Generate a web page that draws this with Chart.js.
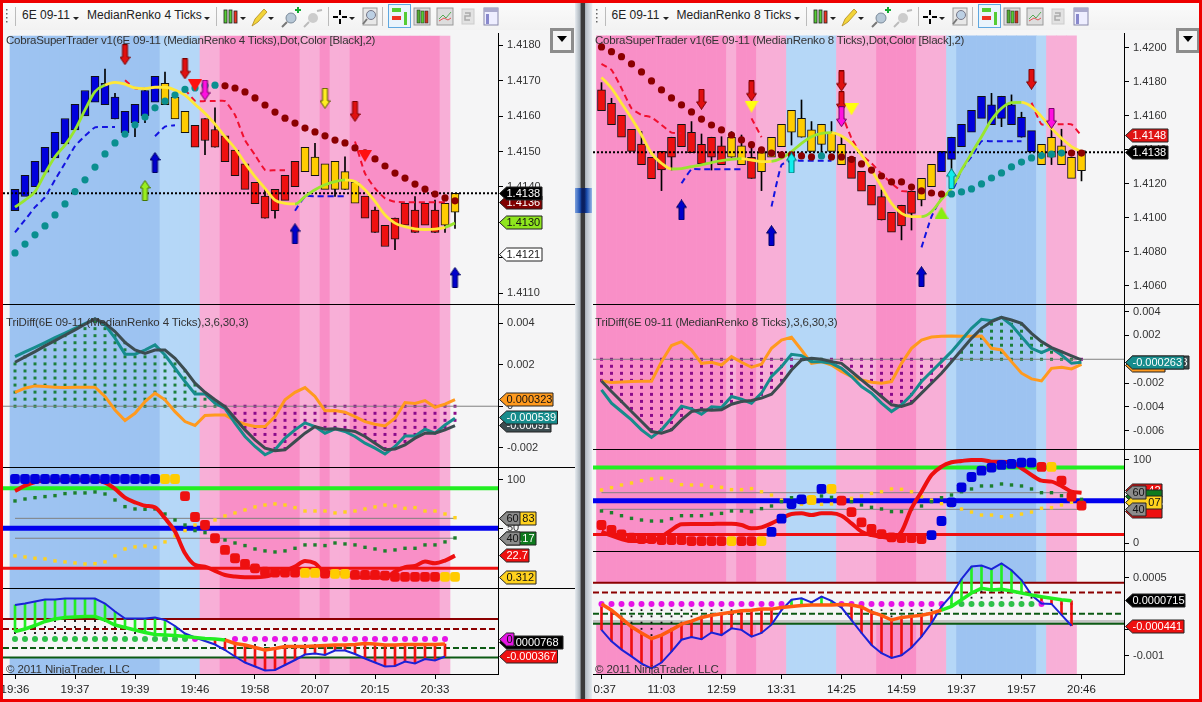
<!DOCTYPE html>
<html><head><meta charset="utf-8">
<style>
html,body{margin:0;padding:0;width:1202px;height:702px;overflow:hidden;background:#f5f5f6;font-family:"Liberation Sans",Arial,sans-serif}
canvas{position:absolute;display:block}
.abs{position:absolute}
.txt{position:absolute;white-space:nowrap;font-size:11.5px;color:#333;line-height:14px;z-index:5}
.tb{position:absolute;white-space:nowrap;font-size:12px;color:#222;line-height:16px;z-index:6}
.sep{position:absolute;height:1px;background:#000;z-index:4}
</style></head><body>
<script src="https://cdn.jsdelivr.net/npm/chart.js@4"></script>
<script>
// ---------- shared ----------
const BAND_COLOR={D:'#9dc3f1',C:'#b5d7f7',S:'#f8afd7',P:'#f98fc7'};
const KIND_COLOR={B:'#0000dd',R:'#ee1010',Y:'#ffcc00',G:'#99e62e',M:'#ff9a2a',O:'#ff5a10',T:'#0a8f8f',K:'#8b0000'};

// ---------- left window : MedianRenko 4 Ticks ----------
const L_X_TICKS=[0,6,12,18,24,30,36,42];
const L_X_LABELS=['19:36','19:37','19:39','19:46','19:58','20:07','20:15','20:33'];
const L_BANDS='DDDDDDDDDDDDDDDCCCCSSPPPPPPPPSSPSSPPPPPPPPPS';
const L_BODY_HI=[1.41393,1.41433,1.41472,1.41512,1.41554,1.41593,1.41633,1.41672,1.41712,1.41692,1.41653,1.41613,1.41633,1.41672,1.41712,1.41692,1.41653,1.41613,1.41574,1.41593,1.41562,1.41544,1.41504,1.41465,1.41413,1.41374,1.41393,1.41433,1.41472,1.41512,1.41484,1.41465,1.41472,1.41443,1.41413,1.41374,1.41335,1.41292,1.41312,1.41354,1.41335,1.41354,1.41335,1.41354,1.41382];
const L_BODY_LO=[1.41333,1.41373,1.41401,1.41442,1.41482,1.41521,1.41561,1.41600,1.41639,1.41632,1.41592,1.41553,1.41581,1.41600,1.41639,1.41632,1.41592,1.41553,1.41512,1.41531,1.41512,1.41471,1.41432,1.41393,1.41353,1.41312,1.41333,1.41362,1.41401,1.41443,1.41432,1.41393,1.41393,1.41393,1.41354,1.41312,1.41272,1.41232,1.41253,1.41292,1.41272,1.41292,1.41272,1.41292,1.41329];
const L_BODY_KIND='BBBBBBBBBBBBBBBYYYRRRRRRRRRRRYYYYYYRRRRRRRRYY';
const L_WICK_I=[9,10,12,13,15,19,20,25,26,30,32,33,36,38,40,42,43,44];
const L_WICK_LO=[1.41632,1.41592,1.41542,1.41581,1.41632,1.41491,1.41512,1.41312,1.41312,1.41432,1.41373,1.41393,1.41272,1.41223,1.41272,1.41272,1.41272,1.41283];
const L_WICK_HI=[1.41732,1.41664,1.41633,1.41672,1.41724,1.41593,1.41623,1.41396,1.41393,1.41523,1.41472,1.41485,1.41343,1.41312,1.41373,1.41363,1.41354,1.41382];
const L_MA=[1.41343,1.41363,1.41387,1.41438,1.41485,1.41518,1.41561,1.41617,1.41669,1.41687,1.41695,1.41690,1.41679,1.41677,1.41681,1.41681,1.41673,1.41659,1.41633,1.41608,1.41577,1.41542,1.41509,1.41467,1.41429,1.41396,1.41363,1.41354,1.41352,1.41373,1.41392,1.41406,1.41415,1.41420,1.41415,1.41392,1.41359,1.41321,1.41298,1.41288,1.41282,1.41280,1.41281,1.41286,1.41298];
const L_MA_KIND='GGGGGGGGGYYYYYYYYYYYYYYYYYYYGGGGGYYYYYYYYYYGG';
const L_BLUE_STOP=[1.41272,1.41307,1.41343,1.41371,1.41420,1.41467,1.41515,1.41544,1.41568,1.41569,1.41569,null,null,null,1.41543,1.41570,1.41574,null,null,null,null,null,null,null,null,null,null,null,1.41333,1.41373,1.41374,1.41374,1.41374,1.41374];
const L_RED_STOP=[null,null,null,null,null,null,null,null,null,null,null,1.41701,1.41678,1.41677,null,null,null,1.41675,1.41643,1.41642,1.41642,1.41642,1.41603,1.41532,1.41490,1.41448,1.41447,1.41447,null,null,null,null,null,null,1.41528,1.41438,1.41396,1.41368,1.41358,1.41357,1.41357,1.41357,1.41357,1.41357];
const L_DOTS=[1.41214,1.41239,1.41265,1.41290,1.41321,1.41352,1.41387,1.41420,1.41456,1.41493,1.41524,1.41549,1.41575,1.41597,1.41623,1.41642,1.41659,1.41675,1.41679,1.41686,1.41687,1.41685,1.41679,1.41668,1.41651,1.41631,1.41611,1.41594,1.41580,1.41566,1.41555,1.41544,1.41532,1.41524,1.41510,1.41496,1.41479,1.41459,1.41439,1.41425,1.41408,1.41394,1.41380,1.41369,1.41361];
const L_DOTS_KIND='TTTTTTTTTTTTTTTTTTTTTKKKKKKKKKKKKKKKKKKKKKKKK';
const L_PRICE=1.41382;
const L_MARK_X=[11,13,14,17,18,19,31,34,35,28,44];
const L_MARK_Y=[1.41773,1.41390,1.41469,1.41733,1.41686,1.41673,1.41650,1.41613,1.41487,1.41268,1.41145];
const L_MARK_KIND=['downRed','upLime','upBlue','downRed','triRed','downMag','downYel','downRed','triRed','upBlue','upBlue'];
const L_TICKS_1=[1.418,1.417,1.416,1.415,1.414,1.413,1.412,1.411];

const L_TEAL=[.00239,.00262,.00284,.00307,.00331,.00353,.00376,.00398,.00421,.00392,.00328,.00251,.00251,.00271,.00296,.00247,.00183,.00119,.00059,.00059,.00014,-.0001,-.00082,-.00146,-.00194,-.00234,-.0021,-.00154,-.00114,-.0008,-.00098,-.0013,-.00109,-.00122,-.00146,-.00178,-.00202,-.0023,-.00194,-.00143,-.00143,-.00111,-.0013,-.0009,-.00058];
const L_SLATE=[.00212,.00238,.00263,.00291,.00316,.00342,.00368,.00395,.00421,.004,.0036,.00308,.00271,.00255,.00271,.00271,.00231,.00175,.00111,.00067,.00031,-.00002,-.00058,-.00114,-.00162,-.00202,-.00215,-.0021,-.0017,-.0013,-.00098,-.00111,-.00109,-.00114,-.00122,-.00146,-.00178,-.0021,-.00206,-.00186,-.00154,-.0013,-.0013,-.00114,-.00093];
const L_ORANGE=[.00067,.00087,.00098,.00095,.00092,.0009,.00092,.00092,.00092,.00047,-.00018,-.00069,-.00034,.00022,.00063,.00031,-.00026,-.00074,-.00093,-.00045,-.00042,-.00042,-.00069,-.00087,-.00098,-.00098,-.0005,.00031,.00067,.0009,.00047,-.00022,-.00021,-.00029,-.0005,-.00074,-.00087,-.00095,-.00058,.00018,.00013,.00027,-.00005,.0001,.00032];
const L_TICKS_2=[.004,.002,0,-.002];

const L_FAST=[88.6,94.1,97.9,99.3,100,100,100,100,99.7,97.2,90.7,81.7,76.9,73.4,71.7,60.3,46.6,24.1,12.1,10.3,5.9,1.7,0,-.7,-.7,0,2.8,5.9,10.3,16.2,13.8,4.5,4.1,2.4,0,-1,-1,-1,5.2,9.7,11,15.5,13.8,16.6,21.7];
const L_BIG=[101,101,101,101,101,101,101,101,101,101,101,101,101,101,101,101,101,83.4,61.7,53.4,39.7,27.6,19,13.1,8.6,5.2,4.1,4.1,4.1,3.8,3.8,3.1,2.8,2.8,1.7,1.7,1.7,1,-.3,-.3,-.3,-.3,-.3,-.3,-.3];
const L_BIG_KIND='BBBBBBBBBBBBBBBYYRRRRRRRRRRRRYYRYYRRRRRRRRRYY';
const L_GREEN_DOT=[78.3,80.3,81.7,82.8,83.8,85.9,86.6,86.6,87.6,85.5,79.3,72.4,70,69.7,70,64.8,58.6,53.4,47.6,45.5,40.7,37.9,34.8,32.1,28.6,26.6,25.5,26.6,29.3,32.8,32.8,32.1,34.8,33.8,32.8,30.3,28.6,26.6,27.6,29.3,29.3,32.8,32.8,35.9,40];
const L_YELLOW_DOT=[21.4,20.3,19,18.3,16.2,15.2,14.1,13.1,13.4,15.2,21.4,28.6,30.7,31.7,30.3,35.9,42.1,47.6,53.4,55.2,58.6,62.8,65.9,69,72.1,74.1,75.2,74.1,71.4,67.9,67.9,67.9,65.9,66.9,67.9,70,72.1,74.1,73.1,70.7,71.4,67.9,67.9,64.8,61];
const L_LEVELS_3=[91.4,60.3,50,39.7,8.6];
const L_TICKS_3=[100,50];

const L_MACD=[.00068,.00071,.00075,.00079,.00079,.00081,.00081,.00081,.00081,.00071,.00055,.00041,.00041,.00041,.00043,.00038,.00026,.00011,.00003,-.00004,-.00011,-.00022,-.00035,-.00047,-.00055,-.00063,-.00062,-.00052,-.00042,-.00031,-.00029,-.00032,-.00023,-.00023,-.0003,-.00039,-.00047,-.00055,-.00054,-.00045,-.00049,-.0004,-.00043,-.00035];
const L_SIGNAL=[.00015,.0002,.00027,.00035,.0004,.00043,.00044,.00045,.00045,.00038,.00028,.00023,.00018,.00013,.00009,.00008,.00007,.00005,.00003,.00001,0,-.00002,-.00009,-.00012,-.00017,-.00022,-.00019,-.00015,-.00015,-.00015,-.00014,-.00013,-.00012,-.00012,-.00011,-.00009,-.0001,-.00012,-.00012,-.00011,-.00011,-.00011,-.00011,-.0001];
const L_SIGNAL_KIND='GGGGGGGGGGGGGGGGGGGGGOOOOOOOOOOOOOOOOOOOOOOO';
const L_ZERO_KIND='GGGGGGGGGGGGGGGGGGM---MMMMMMMMMMMMMMMMMMMMMM';
const L_LEVELS_4=[.0004,.0002,-.00018,-.00037];

// ---------- right window : MedianRenko 8 Ticks ----------
const R_X_TICKS=[0,6,12,18,24,30,36,42,48];
const R_X_LABELS=['\u00a0\u00a00:37','11:03','12:59','13:31','14:25','14:59','19:37','19:57','20:46'];
const R_BANDS='PPPPPPPPPPPPPSPPSSSCCCCCSSSSPPPPSSSCDDDDDDDDCSSS';
const R_BODY_HI=[1.41751,1.41673,1.41602,1.41520,1.41433,1.41355,1.41390,1.41473,1.41549,1.41502,1.41431,1.41473,1.41422,1.41473,1.41422,1.41355,1.41382,1.41473,1.41549,1.41631,1.41584,1.41516,1.41549,1.41502,1.41431,1.41355,1.41273,1.41190,1.41124,1.41031,1.41073,1.41155,1.41231,1.41314,1.41390,1.41473,1.41549,1.41631,1.41714,1.41663,1.41714,1.41663,1.41590,1.41512,1.41431,1.41473,1.41422,1.41355,1.41394];
const R_BODY_LO=[1.41629,1.41547,1.41473,1.41390,1.41312,1.41229,1.41280,1.41355,1.41418,1.41382,1.41316,1.41355,1.41312,1.41355,1.41312,1.41231,1.41271,1.41355,1.41418,1.41502,1.41473,1.41390,1.41431,1.41390,1.41312,1.41231,1.41155,1.41073,1.40986,1.40914,1.40951,1.41025,1.41104,1.41182,1.41271,1.41343,1.41418,1.41502,1.41584,1.41547,1.41584,1.41547,1.41473,1.41386,1.41312,1.41355,1.41312,1.41231,1.41276];
const R_BODY_KIND='RRRRRRRRRRRRRYYRYYYYYYYYYRRRRRRRYYBBBBBBBBBBYYYYY';
const R_WICK_I=[0,1,4,6,7,9,10,11,12,13,14,15,16,19,20,21,22,23,24,28,30,31,32,35,39,40,41,42,45,46,48];
const R_WICK_LO=[1.41629,1.41547,1.41312,1.41159,1.41280,1.41382,1.41316,1.41280,1.41312,1.41355,1.41312,1.41231,1.41159,1.41427,1.41473,1.41390,1.41359,1.41390,1.41312,1.40986,1.40869,1.40927,1.41069,1.41212,1.41547,1.41535,1.41547,1.41473,1.41312,1.41312,1.41216];
const R_WICK_HI=[1.41794,1.41702,1.41506,1.41390,1.41473,1.41565,1.41492,1.41473,1.41476,1.41506,1.41486,1.41422,1.41382,1.41631,1.41692,1.41565,1.41549,1.41565,1.41476,1.41163,1.41073,1.41155,1.41231,1.41473,1.41731,1.41714,1.41722,1.41620,1.41520,1.41520,1.41394];
const R_MA=[1.41825,1.41761,1.41673,1.41584,1.41486,1.41378,1.41320,1.41286,1.41288,1.41300,1.41310,1.41324,1.41335,1.41343,1.41347,1.41339,1.41329,1.41331,1.41349,1.41388,1.41437,1.41476,1.41496,1.41500,1.41480,1.41437,1.41369,1.41280,1.41182,1.41084,1.41025,1.41006,1.41006,1.41035,1.41108,1.41173,1.41280,1.41378,1.41476,1.41575,1.41643,1.41676,1.41678,1.41653,1.41594,1.41525,1.41467,1.41418,1.41388];
const R_MA_KIND='YYYYYYYGGGGGGGYYYGGGGGGYYYYYYYYYGGGGGGGGGGYYYYYYY';
const R_BLUE_STOP=[null,null,null,null,null,null,null,null,1.41202,1.41284,1.41284,1.41284,1.41284,1.41284,1.41284,null,null,1.41065,1.41310,1.41335,1.41335,1.41335,1.41335,1.41335,null,null,null,null,null,null,null,null,1.40825,1.41006,1.41114,1.41147,1.41280,1.41359,1.41449,1.41449,1.41449,1.41449,1.41449];
const R_RED_STOP=[1.41904,1.41869,1.41761,1.41643,1.41604,1.41590,1.41545,1.41500,1.41496,null,null,null,null,null,null,1.41584,1.41473,null,null,null,null,null,null,null,1.41614,1.41467,1.41369,1.41320,1.41257,1.41202,1.41157,1.41153,null,null,null,null,null,null,null,null,null,null,null,1.41676,1.41549,1.41549,1.41549,1.41549,1.41480];
const R_DOTS=[1.42004,1.41976,1.41947,1.41904,1.41857,1.41804,1.41751,1.41704,1.41663,1.41622,1.41580,1.41545,1.41516,1.41486,1.41457,1.41429,1.41398,1.41380,1.41369,1.41369,1.41363,1.41357,1.41363,1.41357,1.41357,1.41343,1.41316,1.41280,1.41245,1.41210,1.41210,1.41180,1.41157,1.41145,1.41139,1.41139,1.41151,1.41169,1.41198,1.41233,1.41263,1.41298,1.41327,1.41351,1.41365,1.41373,1.41380,1.41380,1.41380];
const R_DOTS_KIND='KKKKKKKKKKKKKKKKKKKKKKTKKKKKKKKKKKKTTTTTTTTTTTTKK';
const R_PRICE=1.41384;
const R_MARK_X=[10,15,15,8,17,19,24,24,24,25,35,34,32,43,45];
const R_MARK_Y=[1.41696,1.41745,1.41653,1.41045,1.40894,1.41322,1.41804,1.41682,1.41594,1.41637,1.41229,1.41029,1.40653,1.41814,1.41584];
const R_MARK_KIND=['downRed','downRed','triYel','upBlue','upBlue','upCyan','downRed','downRed','downMag','triYel','upCyan','triLime','upBlue','downRed','downMag'];
const R_TICKS_1=[1.42,1.418,1.416,1.414,1.412,1.41,1.408,1.406];

const R_TEAL=[-.00257,-.00369,-.00439,-.00509,-.00593,-.00657,-.00593,-.00495,-.00394,-.00417,-.00462,-.004,-.00406,-.00313,-.00336,-.00369,-.00285,-.00145,-.00062,.00042,.00031,-.0002,-.0002,-.00034,-.00076,-.00145,-.00229,-.00285,-.00369,-.00439,-.00383,-.00299,-.00187,-.00103,-.0002,.00064,.00162,.0026,.00336,.00324,.00352,.00288,.0019,.00092,.00056,.00092,.00036,-.00034,-.00026];
const R_SLATE=[-.00182,-.00271,-.00355,-.00439,-.00523,-.00607,-.00621,-.00593,-.00509,-.00439,-.00425,-.00428,-.00425,-.00378,-.00355,-.00347,-.00327,-.00294,-.00201,-.0009,-.00006,.00008,0,-.0002,-.00034,-.00103,-.00173,-.00243,-.00313,-.00383,-.00397,-.00369,-.00285,-.00201,-.00117,-.0002,.00078,.00176,.0026,.00316,.00352,.0033,.00302,.00218,.00148,.00098,.00064,.00028,-.00006];
const R_ORANGE=[-.00182,-.00196,-.0019,-.00187,-.00185,-.00185,-.0002,.00115,.00148,.00078,-.00034,-.00025,-.00048,.00022,-.00025,-.00067,-.00042,.00092,.00162,.00185,.00078,-.00034,-.0002,-.00048,-.00103,-.00145,-.00173,-.00193,-.00201,-.00187,-.00034,.00092,.00162,.00187,.00193,.00196,.00193,.00193,.00196,.00092,.00078,-.0002,-.00117,-.00165,-.00182,-.00076,-.00067,-.00081,-.00042];
const R_TICKS_2=[.004,.002,-.002,-.004,-.006];

const R_FAST=[13.7,8.8,4.8,2.4,2.4,2.4,7.6,15.7,22.5,22.9,22.9,22.9,23.3,23.3,21.7,17.7,18.9,23.7,29.7,34.9,35.7,33.7,35.7,35.7,32.9,23.7,13.7,9.6,7.6,5.6,13.7,41.8,61.8,81.9,92,97.2,98.8,100,100,98,98,97.2,90,81.9,75.1,73.9,68.7,61.8,60.6];
const R_BIG=[21.7,15.7,10.4,6.4,4.8,4.8,3.6,3.6,3.6,2.4,2.4,2.4,2.4,2.4,2.4,2.4,2.4,13.3,29.3,47,52.6,51.8,65.1,65.1,51,37.3,24.9,16.9,10.8,6.8,6,6,4.8,9.6,26.5,49,67.1,79.5,87.1,90.8,94,95.2,96.8,96.8,91.6,91.6,75.1,55.8,45];
const R_BIG_KIND='RRRRRRRRRRRRRYRRYBBBBYBYRRRRRRRRRBBBBBBBBBBBRYRRR';
const R_GREEN_DOT=[38.6,36.5,32.9,29.7,27.7,26.5,26.5,29.3,32.9,32.9,32.9,34.9,35.7,38.6,38.6,37.8,41.4,44.6,49.8,54.6,55,53.8,56.6,55,51.8,49.8,45.8,43,41,37.8,37.8,41,44.6,49.8,54.6,57.8,61.8,65.1,68.7,68.7,71.1,69.9,68.7,65.1,60.6,60.6,57,54.6,52.6];
const R_YELLOW_DOT=[63.9,66.7,69.9,72.3,75.1,77.1,77.9,75.1,70.3,69.9,69.9,67.9,67.1,64.3,64.3,65.5,61.8,57.8,51.8,47,46.6,49,46.6,47,50.6,53.8,56.6,59.8,61.8,65.1,64.7,61.8,55.8,51.8,47.4,44.6,41,37.3,33.7,33.7,31.7,32.9,34.9,37.3,41.8,42.6,45.8,49,49.8];
const R_LEVELS_3=[90.8,60.6,51,40.6,10.4];
const R_TICKS_3=[100,0];

const R_MACD=[-.0005,-.00072,-.00088,-.00101,-.00115,-.00124,-.00113,-.00092,-.00069,-.00064,-.00068,-.00055,-.0006,-.00047,-.0005,-.00063,-.00056,-.0004,-.00012,.00008,.00011,.00003,.00014,.00006,-.00007,-.00031,-.00056,-.00079,-.00095,-.00104,-.00099,-.00084,-.00063,-.00037,-.00005,.00017,.00048,.00072,.00074,.00067,.00078,.00065,.00046,.00017,.00001,0,-.00021,-.00042];
const R_SIGNAL=[0,-.00012,-.00028,-.00044,-.00056,-.00067,-.0006,-.0005,-.00039,-.00033,-.00026,-.00022,-.00019,-.00016,-.00013,-.00012,-.0001,-.0001,-.00007,-.00005,-.00003,-.00002,-.00002,-.00002,-.00001,-.00002,-.00006,-.00016,-.00022,-.00031,-.00026,-.00024,-.00022,-.00018,-.00012,-.00005,.00008,.00021,.0003,.00027,.00028,.00025,.00021,.00017,.00014,.00011,.00008,.00006];
const R_SIGNAL_KIND='OOOOOOOOOOOOOOOOOOOOOOOOOOOOOOOOOOGGGGGGGGGGGGGG';
const R_ZERO_KIND='MMMMMMMMMMMMMMMMMMM-----MMMMMMMMMMM-GGGGGGGGM---';
const R_LEVELS_4=[.00041,.00022,-.00019,-.00038];
const R_TICKS_4=[.0005,-.0005,-.001];

// ---------- frame ----------
const LAYOUT={
  L:{left:3,width:572,axisW:77,xMin:-1.2,xMax:48.3},
  R:{left:593,width:606,axisW:75,xMin:-.85,xMax:52.25}
};
function el(cls,css,html){const d=document.createElement('div');d.className=cls;d.style.cssText=css;if(html!=null)d.innerHTML=html;document.body.appendChild(d);return d;}

// red frame, divider
el('abs','left:0;top:0;width:1202px;height:3px;background:#ee0000;z-index:20');
el('abs','left:0;top:699px;width:1202px;height:3px;background:#ee0000;z-index:20');
el('abs','left:0;top:0;width:3px;height:702px;background:#ee0000;z-index:20');
el('abs','left:1199px;top:0;width:3px;height:702px;background:#ee0000;z-index:20');
el('abs','left:575px;top:3px;width:17px;height:696px;background:linear-gradient(90deg,#e6ebf0 0,#aab3bb 30%,#3a3a3a 36%,#3a3a3a 58%,#b4bcc4 62%,#e6ebf0 100%);z-index:3');
el('abs','left:575px;top:188px;width:17px;height:25px;background:linear-gradient(90deg,#7ea2de 0,#1a4eb0 30%,#0a1f60 40%,#0a1f60 55%,#1a4eb0 70%,#9ab8e6 100%);z-index:3');

function toolbar(dx,instr){
  el('abs',`left:${3+dx}px;top:3px;width:${dx?607:572}px;height:27px;background:linear-gradient(#fbfbfb,#f2f2f2);z-index:1`);
  el('tb',`left:${22+dx}px;top:7px`,'6E 09-11');
  el('tb',`left:${87+dx}px;top:7px`,instr);
  const s=`<svg width="500" height="27" style="position:absolute;left:${dx}px;top:3px;z-index:6;overflow:visible">
  <g fill="#666"><rect x="6" y="6" width="1.5" height="1.5"/><rect x="6" y="10" width="1.5" height="1.5"/><rect x="6" y="14" width="1.5" height="1.5"/><rect x="6" y="18" width="1.5" height="1.5"/></g>
  <rect x="15" y="4" width="1" height="19" fill="#bbb"/><rect x="216" y="4" width="1" height="19" fill="#bbb"/><rect x="328" y="4" width="1" height="19" fill="#bbb"/><rect x="382" y="4" width="1" height="19" fill="#bbb"/>
  <path d="M73 14l6 0-3 3zM204 14l6 0-3 3zM240 14l6 0-3 3zM268 14l6 0-3 3zM349 14l6 0-3 3z" fill="#222"/>
  <g stroke="#222" stroke-width=".8"><rect x="224" y="7" width="3" height="13" fill="#55cc33"/><rect x="229" y="7" width="3" height="13" fill="#55cc33"/><rect x="234" y="8" width="3" height="12" fill="#ee3322"/></g>
  <path d="M252 23l3-7 9-10 3 3-9 10z" fill="#f2d43a" stroke="#b08a20" stroke-width=".8"/>
  <g><circle cx="291" cy="15" r="5" fill="#b7c7d6" stroke="#7a8a9a"/><path d="M287 19l-5 5" stroke="#777" stroke-width="2"/><path d="M295 7h6M298 4v6" stroke="#11aa33" stroke-width="2"/></g>
  <g><circle cx="313" cy="15" r="5" fill="#ccc"/><path d="M309 19l-5 5" stroke="#bbb" stroke-width="2"/><path d="M317 8l5-1" stroke="#bbb" stroke-width="2"/></g>
  <path d="M333 14h5M342 14h5M340 7v5M340 16v5" stroke="#000" stroke-width="2"/>
  <rect x="363" y="5" width="14" height="17" fill="#e8e8e8" stroke="#999"/><circle cx="371" cy="12" r="4.5" fill="#bcd0e4" stroke="#778"/><path d="M367 16l-4 5" stroke="#777" stroke-width="2"/>
  <rect x="388.5" y="1.5" width="22" height="23" fill="#eaf4fc" stroke="#5fa8e0"/><rect x="392" y="5" width="9" height="4" fill="#55cc33"/><rect x="392" y="13" width="9" height="4" fill="#ee3322"/><rect x="404" y="9" width="3" height="13" fill="#55cc33"/>
  <rect x="414" y="5" width="16" height="17" fill="#ddd" stroke="#999"/><rect x="417" y="7" width="3" height="13" fill="#55aa33" stroke="#222" stroke-width=".5"/><rect x="421" y="8" width="3" height="12" fill="#55cc33" stroke="#222" stroke-width=".5"/><rect x="425" y="8" width="3" height="12" fill="#cc3322" stroke="#222" stroke-width=".5"/>
  <rect x="437" y="5" width="16" height="17" fill="#ddd" stroke="#999"/><path d="M439 16l4-4 3 3 5-6" stroke="#55aa55" fill="none"/><path d="M439 18l5-3 4 2 3-2" stroke="#dd5555" fill="none"/>
  <rect x="462" y="6" width="12" height="15" fill="#e2e2e2" stroke="#ccc"/><path d="M465 10h5v3h-5v4h5" stroke="#aaa" fill="none" stroke-width="1.5"/>
  <rect x="484" y="5" width="14" height="17" fill="#eef" stroke="#88a"/><rect x="484" y="5" width="14" height="4" fill="#aac"/><rect x="486" y="11" width="3" height="10" fill="#88c"/>
  </svg>`;
  const h=document.createElement('div');h.innerHTML=s;document.body.appendChild(h);
}
toolbar(0,'MedianRenko 4 Ticks');
toolbar(589.5,'MedianRenko 8 Ticks');

// panel separators
[304,467,588].forEach(y=>el('sep',`left:3px;top:${y}px;width:572px`));
[304,449,551].forEach(y=>el('sep',`left:593px;top:${y}px;width:606px`));

// drop-down buttons
[[550,28],[1176,28]].forEach(([x,y])=>{
  el('abs',`left:${x}px;top:${y}px;width:18px;height:19px;border:3px solid #8c8c8c;background:#f4f4f4;z-index:6`,
    '<div style="margin:5px auto 0;width:0;height:0;border-left:5px solid transparent;border-right:5px solid transparent;border-top:6px solid #000"></div>');
});

// panel captions
function cap(x,y,t,sp){el('txt',`left:${x}px;top:${y}px;letter-spacing:${sp}px`,t);}
cap(6,33,'CobraSuperTrader v1(6E 09-11 (MedianRenko 4 Ticks),Dot,Color [Black],2)',-.21);
cap(595,33,'CobraSuperTrader v1(6E 09-11 (MedianRenko 8 Ticks),Dot,Color [Black],2)',-.21);
cap(6,315,'TriDiff(6E 09-11 (MedianRenko 4 Ticks),3,6,30,3)',-.14);
cap(595,315,'TriDiff(6E 09-11 (MedianRenko 8 Ticks),3,6,30,3)',-.14);
cap(6,662,'© 2011 NinjaTrader, LLC',-.1);
cap(595,662,'© 2011 NinjaTrader, LLC',-.1);

// ---------- marker sprites ----------
function sprite(w,h,fn){const c=document.createElement('canvas');c.width=w;c.height=h;fn(c.getContext('2d'));return c;}
function arrowSprite(fill,stroke,up){
  return sprite(11,21,g=>{
    if(!up){g.translate(0,21);g.scale(1,-1);}
    g.beginPath();g.moveTo(5.5,.5);g.lineTo(10.5,8);g.lineTo(8,8);g.lineTo(8,20.5);g.lineTo(3,20.5);g.lineTo(3,8);g.lineTo(.5,8);g.closePath();
    g.fillStyle=fill;g.fill();g.strokeStyle=stroke;g.lineWidth=1;g.stroke();
  });
}
function triSprite(fill,up){
  return sprite(14,12,g=>{
    if(!up){g.translate(0,12);g.scale(1,-1);}
    g.beginPath();g.moveTo(7,0);g.lineTo(14,12);g.lineTo(0,12);g.closePath();g.fillStyle=fill;g.fill();
  });
}
const SPRITES={
  downRed:arrowSprite('#e01010','#7a0000',false),
  downMag:arrowSprite('#ff10e0','#700060',false),
  downYel:arrowSprite('#ffee22','#555500',false),
  upBlue:arrowSprite('#0000cc','#000060',true),
  upLime:arrowSprite('#99ee22','#447700',true),
  upCyan:arrowSprite('#11eeee','#007777',true),
  triRed:triSprite('#ff1010',false),
  triYel:triSprite('#ffff10',false),
  triLime:triSprite('#88ee10',true)
};

// ---------- tags on the axis ----------
const tagPlugin={id:'tags',afterDraw(chart,a,opts){
  const tags=opts.list||[];const g=chart.ctx;const y=chart.scales.y;const tip=chart.chartArea.right+1.5;const left=chart.canvas.offsetLeft;
  g.save();g.font='11px "Liberation Sans"';g.textBaseline='middle';
  tags.forEach(t=>{
    const py=Math.round(y.getPixelForValue(t.v))+.5,x2=t.x2-left,h=6.5;
    g.beginPath();g.moveTo(tip,py);g.lineTo(tip+7,py-h);g.lineTo(x2,py-h);g.lineTo(x2,py+h);g.lineTo(tip+7,py+h);g.closePath();
    g.fillStyle=t.bg;g.fill();g.strokeStyle='#222';g.lineWidth=1;g.stroke();
    g.fillStyle=t.fg;
    if(t.right){g.textAlign='right';g.fillText(t.t,x2-1.5,py+.5);}
    else{g.textAlign='left';g.fillText(t.t,tip+7,py+.5);}
  });
  g.restore();
}};
Chart.register(tagPlugin);
Chart.defaults.font.family='"Liberation Sans"';
Chart.defaults.font.size=11;
Chart.defaults.color='#333';

// ---------- dataset helpers ----------
const colorOf=s=>[...s].map(k=>KIND_COLOR[k]);
const pts=arr=>arr.map((v,i)=>({x:i,y:v}));
function line(arr,color,width,extra){
  return Object.assign({type:'line',data:pts(arr),borderColor:color,borderWidth:width,pointRadius:0,fill:false,tension:0,spanGaps:false},extra||{});
}
function level(w,v,color,width,dash,x0,x1){
  return {type:'line',data:[{x:x0==null?LAYOUT[w].xMin:x0,y:v},{x:x1==null?LAYOUT[w].xMax:x1,y:v}],borderColor:color,borderWidth:width,borderDash:dash||[],pointRadius:0,fill:false,tension:0};
}
function dots(list,radius,style){
  return {type:'line',showLine:false,data:list.map(p=>({x:p.x,y:p.y})),pointRadius:radius,pointStyle:style,pointBackgroundColor:list.map(p=>p.c),pointBorderWidth:0,pointHoverRadius:radius};
}
function seriesDots(arr,kinds,radius,style){
  const list=[];arr.forEach((v,i)=>{const k=kinds[i];if(k&&k!=='-'&&v!=null)list.push({x:i,y:v,c:KIND_COLOR[k]||k});});
  return dots(list,radius,style);
}
function bars(xs,lo,hi,colors,width,extra){
  return Object.assign({type:'bar',data:xs.map((x,i)=>({x,y:[lo[i],hi[i]]})),backgroundColor:colors,barThickness:width,maxBarThickness:width,grouped:false,borderSkipped:false,borderWidth:0},extra||{});
}
function bandBars(code,lo,hi){
  const xs=[...code].map((_,i)=>i);
  return bars(xs,xs.map(()=>lo),xs.map(()=>hi),[...code].map(k=>BAND_COLOR[k]),10);
}
function columnDots(base,step,colorAbove,colorBelow,radius){
  const list=[];
  base.forEach((v,i)=>{const n=Math.floor(Math.abs(v)/step);for(let k=0;k<=n;k++)list.push({x:i,y:(v>=0?1:-1)*k*step,c:v>=0?colorAbove:colorBelow});});
  return dots(list,radius,'rect');
}
const noPad=s=>{s.paddingLeft=0;s.paddingRight=0;s.paddingTop=0;s.paddingBottom=0;};
function panel(w,top,height,plotH,yMin,yMax,ticks,fmt,datasets,tags,xTicks,xLabels){
  const a=LAYOUT[w];const c=document.createElement('canvas');
  c.width=a.width;c.height=height;c.style.cssText=`left:${a.left}px;top:${top}px;width:${a.width}px;height:${height}px;z-index:2`;
  document.body.appendChild(c);
  datasets.forEach((d,i)=>{d.order=1000-i;});
  return new Chart(c,{type:'bar',data:{datasets},options:{
    responsive:false,animation:false,devicePixelRatio:1,
    layout:{padding:0,autoPadding:false},
    plugins:{legend:{display:false},tooltip:{enabled:false},title:{display:false},tags:{list:tags}},
    scales:{
      x:{type:'linear',min:a.xMin,max:a.xMax,offset:false,bounds:'data',display:!!xTicks,
        grid:{drawOnChartArea:false,offset:false,color:'#000',tickLength:5},border:{color:'#000'},
        afterBuildTicks:s=>{if(xTicks)s.ticks=xTicks.map(v=>({value:v}));},
        afterFit:s=>{noPad(s);if(xTicks)s.height=height-plotH;},
        ticks:{autoSkip:false,maxRotation:0,minRotation:0,padding:4,color:'#222',font:{size:11.5},callback:v=>{const k=xTicks?xTicks.indexOf(v):-1;return k>=0?xLabels[k]:'';}}},
      y:{type:'linear',position:'right',min:yMin,max:yMax,bounds:'data',
        grid:{drawOnChartArea:false,color:'#000',tickLength:5},border:{color:'#000'},
        afterBuildTicks:s=>{s.ticks=ticks.map(v=>({value:v}));},
        afterFit:s=>{noPad(s);s.width=a.axisW;},
        ticks:{autoSkip:false,padding:4,color:'#333',font:{size:11},callback:fmt}}
    }}});
}
const fmtPrice=v=>v.toFixed(4);
const fmtPlain=v=>String(v);

// ---------- price panel ----------
function pricePanel(w,bands,bandTop,yMin,yMax,xLast,hi,lo,kind,wi,wl,wh,stopB,stopR,ma,maK,dotV,dotK,price,mx,my,mk,ticks,tags){
  const ds=[];const xs=hi.map((_,i)=>i);
  ds.push(bandBars(bands,yMin,bandTop));
  ds.push(bars(wi,wl,wh,'#000',1));
  ds.push(bars(xs,lo,hi,colorOf(kind),8,{borderColor:'#111',borderWidth:1}));
  ds.push(level(w,price,'#000',2,[2,2]));
  ds.push(line(stopB,'#1414e0',2,{borderDash:[6,4],tension:.15}));
  ds.push(line(stopR,'#f01030',2,{borderDash:[6,4],tension:.15}));
  ds.push(line(ma,'#ffe838',2.8,{cubicInterpolationMode:'monotone',segment:{borderColor:c=>maK[c.p0DataIndex]==='G'?'#99e62e':'#ffe838'}}));
  ds.push(seriesDots(dotV,dotK,3.6,'circle'));
  ds.push({type:'line',showLine:false,data:mx.map((x,i)=>({x,y:my[i]})),pointStyle:mk.map(k=>SPRITES[k]),pointRadius:8});
  return panel(w,33,271,271,yMin,yMax,ticks,fmtPrice,ds,tags);
}
pricePanel('L',L_BANDS,1.41825,1.4107,1.41834,44,L_BODY_HI,L_BODY_LO,L_BODY_KIND,L_WICK_I,L_WICK_LO,L_WICK_HI,L_BLUE_STOP,L_RED_STOP,L_MA,L_MA_KIND,L_DOTS,L_DOTS_KIND,L_PRICE,L_MARK_X,L_MARK_Y,L_MARK_KIND,L_TICKS_1,[
 {v:1.4121,t:'1.4121',bg:'#ffffff',fg:'#222',x2:542},
 {v:1.41358,t:'1.4136',bg:'#800000',fg:'#fff',x2:542},
 {v:1.4130,t:'1.4130',bg:'#8fe61e',fg:'#111',x2:542},
 {v:1.41382,t:'1.4138',bg:'#000',fg:'#fff',x2:542}]);
pricePanel('R',R_BANDS,1.42069,1.40492,1.42086,48,R_BODY_HI,R_BODY_LO,R_BODY_KIND,R_WICK_I,R_WICK_LO,R_WICK_HI,R_BLUE_STOP,R_RED_STOP,R_MA,R_MA_KIND,R_DOTS,R_DOTS_KIND,R_PRICE,R_MARK_X,R_MARK_Y,R_MARK_KIND,R_TICKS_1,[
 {v:1.41486,t:'1.4148',bg:'#e01414',fg:'#fff',x2:1168},
 {v:1.41387,t:'1.4138',bg:'#000',fg:'#fff',x2:1168}]);

// ---------- TriDiff panel ----------
function triPanel(w,top,h,bands,yMin,yMax,teal,slate,orange,step,split,ticks,tags){
  const ds=[];
  ds.push(bandBars(bands,yMin,yMax));
  ds.push(columnDots(slate,step,'#1c7f3c','#8a0a8a',2.1));
  ds.push(level(w,0,'#808080',1));
  ds.push(line(orange,'#ff9a1e',3));
  ds.push(line(teal,'#168c8c',3));
  ds.push(line(slate,'#3c4c50',3));
  return panel(w,top,h,h,yMin,yMax,ticks,v=>v===0?'0':String(v),ds,tags);
}
triPanel('L',305,162,L_BANDS,-.00293,.00488,L_TEAL,L_SLATE,L_ORANGE,.00034,0,L_TICKS_2,[
 {v:-.0009,t:'-0.00091',bg:'#3c4c50',fg:'#fff',x2:551},
 {v:.00035,t:'0.000323',bg:'#ff9a1e',fg:'#111',x2:553},
 {v:-.0005,t:'-0.000539',bg:'#168c8c',fg:'#fff',x2:557.5}]);
triPanel('R',305,144,R_BANDS,-.00754,.00456,R_TEAL,R_SLATE,R_ORANGE,.00059,0,R_TICKS_2,[
 {v:-.00023,t:'3',bg:'#3c4c50',fg:'#fff',x2:1189,right:true},
 {v:-.00048,t:'',bg:'#ff9a1e',fg:'#111',x2:1165},
 {v:-.00023,t:'-0.000263',bg:'#168c8c',fg:'#fff',x2:1184}]);

// ---------- stochastic panel ----------
function stochPanel(w,top,h,bands,yMin,yMax,levels,fast,big,bigK,green,yellow,last,ticks,tags){
  const ds=[];const gk=fast.map(()=>'#1c7f2c'),yk=fast.map(()=>'#ffd21e');
  ds.push(bandBars(bands,yMin,yMax));
  ds.push(level(w,levels[1],'#808080',1,null,0,last));
  ds.push(level(w,levels[3],'#808080',1,null,0,last));
  ds.push(level(w,levels[0],'#22ee22',4));
  ds.push(level(w,levels[2],'#0000ee',5));
  ds.push(level(w,levels[4],'#ee1010',3));
  ds.push(seriesDots(yellow,yk,2.4,'rect'));
  ds.push(seriesDots(green,gk,2.4,'rect'));
  ds.push(line(fast,'#ee1010',4,{cubicInterpolationMode:'monotone'}));
  ds.push(seriesDots(big,bigK,5.7,'rectRounded'));
  return panel(w,top,h,h,yMin,yMax,ticks,fmtPlain,ds,tags);
}
stochPanel('L',468,120,L_BANDS,-11.8,112.4,L_LEVELS_3,L_FAST,L_BIG,L_BIG_KIND,L_GREEN_DOT,L_YELLOW_DOT,44,L_TICKS_3,[
 {v:60.7,t:'83',bg:'#ffd21e',fg:'#111',x2:536,right:true},
 {v:60.7,t:'60',bg:'#8c8c8c',fg:'#111',x2:520},
 {v:40.3,t:'.17',bg:'#0e7a1e',fg:'#fff',x2:536,right:true},
 {v:40.3,t:'40',bg:'#8c8c8c',fg:'#111',x2:520},
 {v:22.4,t:'22.7',bg:'#ee1010',fg:'#fff',x2:529},
 {v:-.4,t:'0.312',bg:'#ffd21e',fg:'#111',x2:536}]);
stochPanel('R',450,101,R_BANDS,-9.6,112,R_LEVELS_3,R_FAST,R_BIG,R_BIG_KIND,R_GREEN_DOT,R_YELLOW_DOT,48,R_TICKS_3,[
 {v:63.9,t:'42',bg:'#ee1010',fg:'#fff',x2:1162,right:true},
 {v:38.6,t:'',bg:'#ee1010',fg:'#fff',x2:1162},
 {v:56.6,t:'',bg:'#0e7a1e',fg:'#fff',x2:1162},
 {v:49.4,t:'07',bg:'#ffd21e',fg:'#111',x2:1162,right:true},
 {v:61.4,t:'60',bg:'#8c8c8c',fg:'#111',x2:1146},
 {v:41,t:'40',bg:'#8c8c8c',fg:'#111',x2:1146}]);

// ---------- oscillator panel ----------
function oscPanel(w,top,h,plotH,bands,yMin,yMax,levels,macd,signal,sigK,zeroK,step,ticks,fmt,xt,xl,tags,halo){
  const ds=[];const xs=macd.map((_,i)=>i);
  ds.push(bandBars(bands,levels[0],yMax));
  ds.push(bandBars(bands,yMin,levels[3]));
  if(halo!=null)ds.push(level(w,halo,'#c4c4c4',3));
  ds.push(level(w,levels[0],'#8b0000',2));
  ds.push(level(w,levels[1],'#8b0000',2,[6,3]));
  ds.push(level(w,levels[2],'#0c5a14',2,[6,3]));
  ds.push(level(w,levels[3],'#0c5a14',2));
  ds.push(columnDots(signal,step,'#111','#111',1.3));
  ds.push(bars(xs,xs.map(i=>Math.min(macd[i],signal[i])),xs.map(i=>Math.max(macd[i],signal[i])),xs.map(i=>macd[i]>=signal[i]?'#22ee22':'#ee1010'),2));
  ds.push(seriesDots(macd.map(()=>0),[...zeroK].map(k=>k==='G'?'#2fc04a':k==='M'?'#e614e6':'-'),3,'circle'));
  ds.push(line(macd,'#1a22d8',2));
  ds.push(line(signal,'#ff5a10',3.5,{segment:{borderColor:c=>sigK[c.p0DataIndex]==='G'?'#22ee22':'#ff5a10'}}));
  return panel(w,top,h,plotH,yMin,yMax,ticks,fmt,ds,tags,xt,xl);
}
oscPanel('L',589,106,85,L_BANDS,-.0007,.001,L_LEVELS_4,L_MACD,L_SIGNAL,L_SIGNAL_KIND,L_ZERO_KIND,.00012,[],fmtPlain,L_X_TICKS,L_X_LABELS,[
 {v:-.00006,t:'0.0000768',bg:'#000',fg:'#fff',x2:563},
 {v:-.00034,t:'-0.000367',bg:'#ee1010',fg:'#fff',x2:557.5},
 {v:0,t:'0',bg:'#e614e6',fg:'#111',x2:514}]);
oscPanel('R',552,143,122,R_BANDS,-.00135,.001,R_LEVELS_4,R_MACD,R_SIGNAL,R_SIGNAL_KIND,R_ZERO_KIND,.00012,R_TICKS_4,fmtPlain,R_X_TICKS,R_X_LABELS,[
 {v:.00008,t:'0.0000715',bg:'#000',fg:'#fff',x2:1185},
 {v:-.00042,t:'-0.000441',bg:'#ee1010',fg:'#fff',x2:1184}],-.00034);
</script>
</body></html>
